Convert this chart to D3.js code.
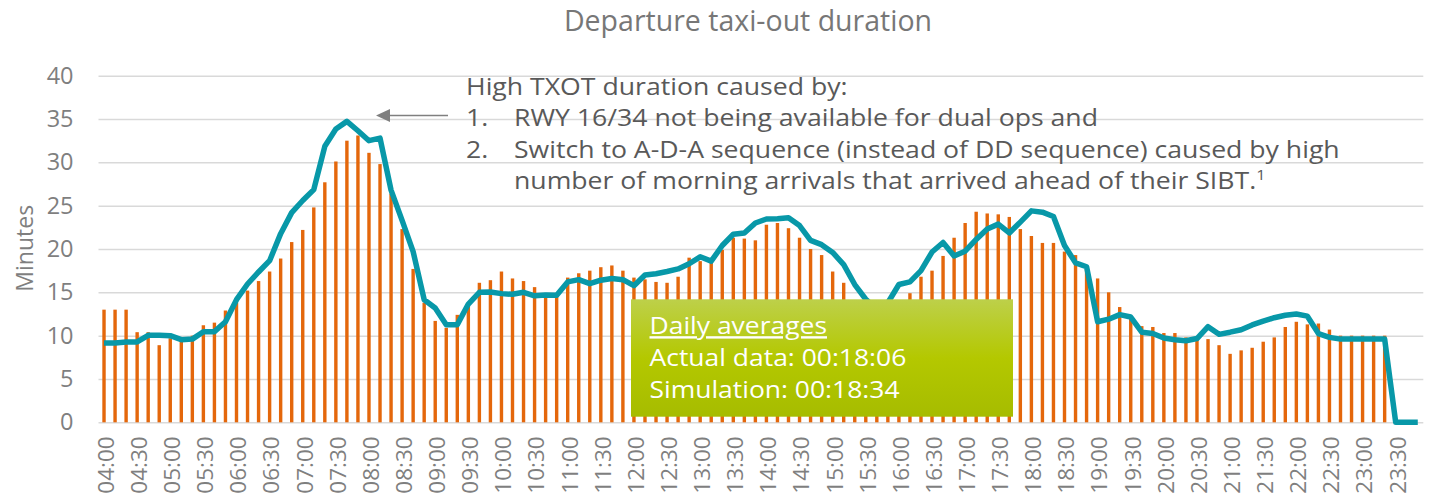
<!DOCTYPE html>
<html>
<head>
<meta charset="utf-8">
<script src="https://cdn.jsdelivr.net/npm/d3@7"></script>
<style>
  html, body { margin: 0; padding: 0; background: #ffffff; }
  svg { display: block; font-family: "Open Sans", "Noto Sans", sans-serif; }
</style>
</head>
<body>
<svg id="chart" width="1429" height="497"></svg>
<script>
// ---------- data ----------
const categories = [
  "04:00","04:10","04:20","04:30","04:40","04:50","05:00","05:10","05:20","05:30","05:40","05:50",
  "06:00","06:10","06:20","06:30","06:40","06:50","07:00","07:10","07:20","07:30","07:40","07:50",
  "08:00","08:10","08:20","08:30","08:40","08:50","09:00","09:10","09:20","09:30","09:40","09:50",
  "10:00","10:10","10:20","10:30","10:40","10:50","11:00","11:10","11:20","11:30","11:40","11:50",
  "12:00","12:10","12:20","12:30","12:40","12:50","13:00","13:10","13:20","13:30","13:40","13:50",
  "14:00","14:10","14:20","14:30","14:40","14:50","15:00","15:10","15:20","15:30","15:40","15:50",
  "16:00","16:10","16:20","16:30","16:40","16:50","17:00","17:10","17:20","17:30","17:40","17:50",
  "18:00","18:10","18:20","18:30","18:40","18:50","19:00","19:10","19:20","19:30","19:40","19:50",
  "20:00","20:10","20:20","20:30","20:40","20:50","21:00","21:10","21:20","21:30","21:40","21:50",
  "22:00","22:10","22:20","22:30","22:40","22:50","23:00","23:10","23:20","23:30","23:40","23:50"
];

// Actual data (bars), minutes
const actual = [
  13.0, 13.0, 13.0, 10.4, 10.4, 8.9, 9.7, 9.4, 10.0, 11.2, 11.5, 12.9,
  13.8, 15.2, 16.3, 17.4, 18.9, 20.8, 22.2, 24.8, 27.7, 30.1, 32.5, 33.1,
  31.1, 29.8, 26.4, 22.3, 17.7, 13.8, 11.7, 10.9, 12.4, 13.5, 16.1, 16.4,
  17.4, 16.6, 16.3, 15.6, 14.7, 14.7, 16.7, 17.2, 17.5, 17.9, 18.1, 17.5,
  16.7, 16.5, 16.2, 16.1, 16.8, 19.0, 18.6, 18.4, 19.9, 21.3, 21.2, 21.0,
  22.8, 23.0, 22.4, 21.3, 20.0, 19.3, 17.4, 16.1, 13.5, 12.8, 12.5, 13.2,
  13.8, 14.9, 16.8, 17.5, 19.2, 21.3, 23.0, 24.3, 24.1, 24.0, 23.7, 22.3,
  21.5, 20.7, 20.7, 19.7, 19.3, 18.0, 16.6, 15.0, 13.3, 12.1, 11.1, 11.0,
  10.3, 10.3, 9.8, 9.7, 9.6, 8.9, 7.9, 8.3, 8.6, 9.3, 9.8, 11.0,
  11.6, 11.3, 11.4, 10.7, 10.0, 10.0, 10.0, 10.0, 10.0, 0, 0, 0
];

// Simulation (line), minutes
const simulation = [
  9.15, 9.15, 9.27, 9.27, 10.04, 10.04, 10.0, 9.54, 9.6, 10.46, 10.46, 11.6,
  14.15, 15.96, 17.35, 18.65, 21.77, 24.2, 25.6, 26.85, 31.85, 33.85, 34.73, 33.65,
  32.5, 32.8, 26.8, 23.3, 19.7, 14.15, 13.2, 11.27, 11.27, 13.65, 15.0, 15.04,
  14.85, 14.77, 15.0, 14.6, 14.7, 14.65, 16.2, 16.46, 16.0, 16.4, 16.6, 16.46,
  15.77, 17.0, 17.15, 17.4, 17.7, 18.3, 19.1, 18.6, 20.4, 21.7, 21.85, 23.0,
  23.46, 23.5, 23.6, 22.7, 21.0, 20.5, 19.6, 18.2, 15.9, 14.2, 13.0, 13.8,
  15.9, 16.2, 17.5, 19.65, 20.75, 19.2, 19.75, 21.1, 22.3, 22.87, 21.85, 23.1,
  24.4, 24.25, 23.75, 20.4, 18.4, 17.95, 11.6, 11.9, 12.43, 12.15, 10.4, 10.25,
  9.72, 9.52, 9.41, 9.67, 11.04, 10.15, 10.4, 10.68, 11.24, 11.68, 12.07, 12.35,
  12.5, 12.25, 10.24, 9.8, 9.6, 9.6, 9.6, 9.6, 9.6, 0, 0, 0
];

const xTickLabels = [
  "04:00","04:30","05:00","05:30","06:00","06:30","07:00","07:30","08:00","08:30",
  "09:00","09:30","10:00","10:30","11:00","11:30","12:00","12:30","13:00","13:30",
  "14:00","14:30","15:00","15:30","16:00","16:30","17:00","17:30","18:00","18:30",
  "19:00","19:30","20:00","20:30","21:00","21:30","22:00","22:30","23:00","23:30"
];
const yTicks = [0, 5, 10, 15, 20, 25, 30, 35, 40];

const titleText = "Departure taxi-out duration";
const yAxisTitle = "Minutes";
const noteHeader = "High TXOT duration caused by:";
const noteItems = [
  ["1.", ["RWY 16/34 not being available for dual ops and"]],
  ["2.", ["Switch to A-D-A sequence (instead of DD sequence) caused by high",
          "number of morning arrivals that arrived ahead of their SIBT."]]
];
const noteFootnote = "1";
const boxTitle = "Daily averages";
const boxLines = ["Actual data: 00:18:06", "Simulation: 00:18:34"];

// ---------- layout ----------
const svg = d3.select("#chart");
const plotLeft = 98.5, plotRight = 1423.3, plotTop = 75.7, plotBottom = 422.3;
const gray = "#7f7f7f";

svg.append("rect").attr("width", 1429).attr("height", 497).attr("fill", "#fff");

const x = d3.scaleBand().domain(categories).range([plotLeft, plotRight]).padding(0);
const y = d3.scaleLinear().domain([0, 40]).range([plotBottom, plotTop]);
const barW = 3.4;

// Y axis with gridlines
const yAxis = svg.append("g")
  .attr("transform", `translate(${plotLeft},0)`)
  .call(d3.axisLeft(y).tickValues(yTicks).tickSizeInner(-(plotRight - plotLeft)).tickSizeOuter(0).tickPadding(25));
yAxis.select(".domain").remove();
yAxis.selectAll(".tick line").attr("stroke", "#d9d9d9").attr("stroke-width", 1.5);
yAxis.selectAll(".tick text")
  .attr("fill", gray).style("font-size", "23.5px").style("font-family", "'Open Sans'");

// X axis labels
const xAxis = svg.append("g")
  .attr("transform", `translate(0,${plotBottom})`)
  .call(d3.axisBottom(x).tickValues(xTickLabels).tickSize(0));
xAxis.select(".domain").remove();
xAxis.selectAll(".tick text")
  .attr("transform", "rotate(-90)")
  .attr("x", -14).attr("y", 2).attr("dy", "0.35em")
  .style("text-anchor", "end")
  .attr("fill", gray).style("font-size", "22.5px").style("font-family", "'Open Sans'");

// Bars
svg.append("g").selectAll("rect").data(categories.map((c, i) => ({ c, v: actual[i] })))
  .join("rect")
  .attr("x", d => x(d.c) + (x.bandwidth() - barW) / 2)
  .attr("width", barW)
  .attr("y", d => y(d.v))
  .attr("height", d => y(0) - y(d.v))
  .attr("fill", "#e4670b");

// Simulation line
const line = d3.line()
  .x((d, i) => x(categories[i]) + x.bandwidth() / 2)
  .y(d => y(d));
svg.append("path").datum(simulation)
  .attr("d", line)
  .attr("fill", "none")
  .attr("stroke", "#0898a8")
  .attr("stroke-width", 5.5)
  .attr("stroke-linejoin", "round");

// Title
svg.append("text").text(titleText)
  .attr("x", 748).attr("y", 31)
  .attr("text-anchor", "middle")
  .attr("fill", "#777777").style("font-size", "28.5px");

// Y axis title
svg.append("text").text(yAxisTitle)
  .attr("transform", "translate(32.5,248.3) rotate(-90)")
  .attr("text-anchor", "middle")
  .attr("fill", gray).style("font-size", "23px");

// Helper for horizontally scaled text
function scaledText(g, str, x0, y0, sx, size, fill) {
  return g.append("text").text(str)
    .attr("transform", `translate(${x0},${y0}) scale(${sx},1)`)
    .attr("fill", fill).style("font-size", size + "px");
}

// Annotation
const note = svg.append("g");
const noteColor = "#595959", noteSize = 23;
const probe = note.append("text").text(noteItems[1][1][0]).style("font-size", noteSize + "px");
const sNote = 826 / probe.node().getComputedTextLength();
probe.remove();
const noteX = 466, textX = 514;
const noteBaselines = [95, 126.3, 157.8, 189.2];
scaledText(note, noteHeader, noteX, noteBaselines[0], sNote, noteSize, noteColor);
let li = 1;
noteItems.forEach(([num, lines]) => {
  scaledText(note, num, noteX, noteBaselines[li], sNote, noteSize, noteColor);
  lines.forEach((l, k) => {
    const t = scaledText(note, l, textX, noteBaselines[li], sNote, noteSize, noteColor);
    if (li === noteBaselines.length - 1) {
      t.append("tspan").text(noteFootnote).attr("dy", -9).style("font-size", "14px");
    }
    li++;
  });
});

// Arrow
svg.append("line")
  .attr("x1", 448).attr("y1", 115.5).attr("x2", 388).attr("y2", 115.5)
  .attr("stroke", gray).attr("stroke-width", 1.6);
svg.append("path")
  .attr("d", "M376,115.5 L390,109 L390,122 Z")
  .attr("fill", gray);

// Daily averages box
const defs = svg.append("defs");
const grad = defs.append("linearGradient").attr("id", "boxGrad")
  .attr("x1", 0).attr("y1", 0).attr("x2", 0).attr("y2", 1);
grad.append("stop").attr("offset", "0%").attr("stop-color", "#bdd04a");
grad.append("stop").attr("offset", "50%").attr("stop-color", "#b4c800");
grad.append("stop").attr("offset", "100%").attr("stop-color", "#a6bc00");

const box = svg.append("g");
box.append("rect")
  .attr("x", 631).attr("y", 299.3).attr("width", 382).attr("height", 117.4)
  .attr("fill", "url(#boxGrad)");
const boxSize = 24;
const probe2 = box.append("text").text(boxLines[0]).style("font-size", boxSize + "px");
const sBox = 257 / probe2.node().getComputedTextLength();
probe2.remove();
scaledText(box, boxTitle, 649.5, 334.3, sBox, boxSize, "#fff")
  .style("text-decoration", "underline");
boxLines.forEach((l, k) => scaledText(box, l, 649.5, 366.2 + k * 32.1, sBox, boxSize, "#fff"));
</script>
</body>
</html>
